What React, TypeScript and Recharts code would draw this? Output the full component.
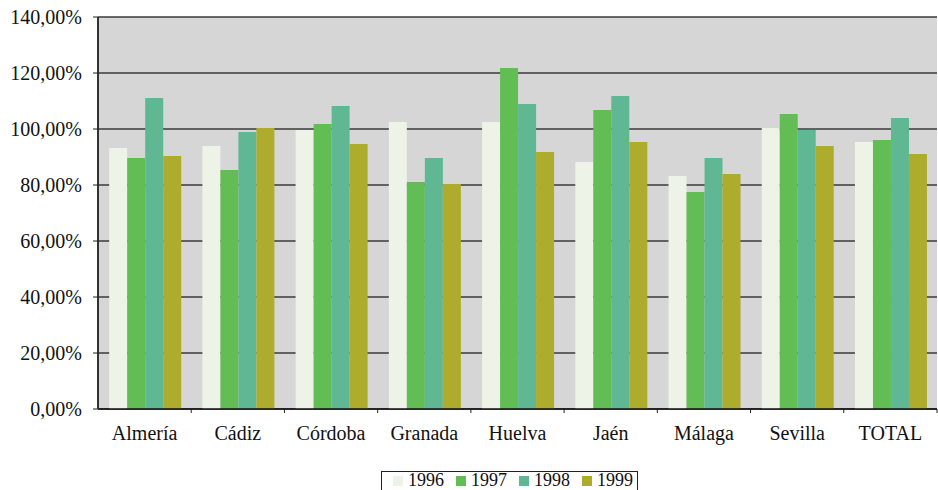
import React from "react";
import {
  BarChart,
  Bar,
  XAxis,
  YAxis,
  CartesianGrid,
  Legend,
} from "recharts";

const categories = [
  "Almería",
  "Cádiz",
  "Córdoba",
  "Granada",
  "Huelva",
  "Jaén",
  "Málaga",
  "Sevilla",
  "TOTAL",
];
const v1996 = [93.2, 93.9, 99.6, 102.5, 102.5, 88.2, 83.2, 100.4, 95.4];
const v1997 = [89.6, 85.4, 101.8, 81.1, 121.8, 106.8, 77.5, 105.4, 96.1];
const v1998 = [111.1, 98.9, 108.2, 89.6, 108.9, 111.8, 89.6, 99.6, 103.9];
const v1999 = [90.4, 100.4, 94.6, 80.4, 91.8, 95.4, 83.9, 93.9, 91.1];
const yTicks = [0, 20, 40, 60, 80, 100, 120, 140];

const seriesNames = ["1996", "1997", "1998", "1999"];
const colors = ["#edf3e6", "#62bd55", "#5fb793", "#adac2d"];

const data = categories.map((name, i) => ({
  name,
  "1996": v1996[i],
  "1997": v1997[i],
  "1998": v1998[i],
  "1999": v1999[i],
}));

const FONT = '"Liberation Serif", "Times New Roman", Times, "DejaVu Serif", serif';

const formatPct = (v: number) => `${v.toFixed(2).replace(".", ",")}%`;

// category label in the middle, tick mark on the boundary between categories
const CategoryTick = (props: any) => {
  const { x, y, payload, index, visibleTicksCount } = props;
  const half = payload.offset || 0;
  const last = index === visibleTicksCount - 1;
  return (
    <g>
      {index > 0 && (
        <line x1={x - half} x2={x - half} y1={y} y2={y + 4} stroke="#222" />
      )}
      {last && (
        <line x1={x + half} x2={x + half} y1={y} y2={y + 4} stroke="#222" />
      )}
      <text
        x={x}
        y={y + 17}
        dy="0.71em"
        textAnchor="middle"
        fill="#111"
        style={{ fontSize: 20, fontFamily: FONT }}
      >
        {payload.value}
      </text>
    </g>
  );
};

const LegendBox = () => (
  <div
    style={{
      display: "flex",
      alignItems: "center",
      border: "1px solid #222",
      background: "#fff",
      padding: "0px 4px 4px 11px",
      fontFamily: FONT,
      fontSize: 18,
      lineHeight: "17px",
      color: "#111",
    }}
  >
    {seriesNames.map((s, i) => (
      <div
        key={s}
        style={{ display: "flex", alignItems: "center", marginRight: i < 3 ? 12 : 0 }}
      >
        <span
          style={{
            display: "inline-block",
            width: 10,
            height: 10,
            background: colors[i],
            marginRight: 5,
          }}
        />
        <span>{s}</span>
      </div>
    ))}
  </div>
);

export default function App() {
  return (
    <div style={{ position: "absolute", left: 0, top: 0, width: 938, height: 490, overflow: "hidden" }}>
      <BarChart
        width={938}
        height={490}
        data={data}
        margin={{ top: 17, right: 1, left: 0, bottom: 0 }}
        barCategoryGap="12%"
        barGap={0}
        style={{ fontFamily: FONT }}
      >
        <CartesianGrid
          vertical={false}
          fill="#d6d6d6"
          fillOpacity={1}
          stroke="#3a3a3a"
          strokeWidth={1.5}
        />
        <XAxis
          dataKey="name"
          height={81}
          interval={0}
          tickSize={0}
          tickMargin={0}
          tickLine={false}
          axisLine={{ stroke: "#111", strokeWidth: 1.5 }}
          tick={<CategoryTick />}
        />
        <YAxis
          width={98}
          domain={[0, 140]}
          ticks={yTicks}
          tickFormatter={formatPct}
          tickSize={5}
          tickMargin={11}
          axisLine={{ stroke: "#333", strokeWidth: 2 }}
          tickLine={{ stroke: "#222" }}
          tick={{ fill: "#111", fontSize: 20, style: { fontFamily: FONT } }}
        />
        <Legend
          verticalAlign="middle"
          align="center"
          layout="horizontal"
          content={<LegendBox />}
          wrapperStyle={{ top: 471, left: 381, width: "auto", height: "auto" }}
        />
        {seriesNames.map((s, i) => (
          <Bar key={s} dataKey={s} fill={colors[i]} isAnimationActive={false} />
        ))}
      </BarChart>
    </div>
  );
}
